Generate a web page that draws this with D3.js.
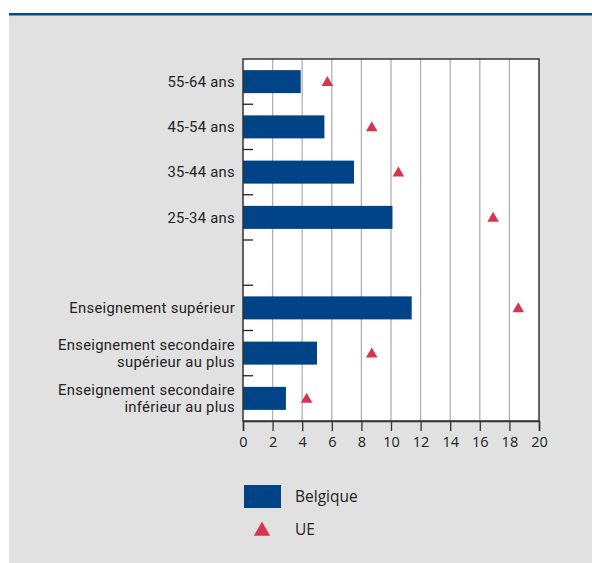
<!DOCTYPE html>
<html><head><meta charset="utf-8">
<script src="https://cdn.jsdelivr.net/npm/d3@7"></script>
<style>body{margin:0;background:#fff}svg{display:block}</style>
</head><body>
<script>
const categories = [
  ["55-64 ans"], ["45-54 ans"], ["35-44 ans"], ["25-34 ans"], [""],
  ["Enseignement supérieur"],
  ["Enseignement secondaire", "supérieur au plus"],
  ["Enseignement secondaire", "inférieur au plus"]
];
const belgique = [3.9, 5.5, 7.5, 10.1, null, 11.4, 5.0, 2.9];
const ue = [5.7, 8.7, 10.5, 16.9, null, 18.6, 8.7, 4.3];
const xTicks = [0, 2, 4, 6, 8, 10, 12, 14, 16, 18, 20];
const legendLabels = ["Belgique", "UE"];

const W = 592, H = 563;
const svg = d3.select("body").append("svg").attr("width", W).attr("height", H);
const font = "'Open Sans', 'Noto Sans', sans-serif";
const labFont = "Roboto, 'Open Sans', sans-serif";

svg.append("rect").attr("x", 9).attr("y", 15).attr("width", W - 9).attr("height", H - 15).attr("fill", "#e1e1e1");
svg.append("rect").attr("x", 9).attr("y", 13).attr("width", W - 9).attr("height", 2.5).attr("fill", "#004a93");

const L = 243, R = 539, T = 59, B = 421;
const x = d3.scaleLinear().domain([0, 20]).range([L, R]);
const y = d3.scaleBand().domain(d3.range(categories.length)).range([T, B]);

svg.append("rect").attr("x", L).attr("y", T).attr("width", R - L).attr("height", B - T).attr("fill", "#fff");

svg.append("g").selectAll("line").data(xTicks.slice(1, -1)).join("line")
  .attr("x1", d => x(d)).attr("x2", d => x(d)).attr("y1", T).attr("y2", B)
  .attr("stroke", "#b0b0b0").attr("stroke-width", 1.3);

// bars
const bh = 23;
svg.append("g").selectAll("rect").data(belgique.map((v, i) => ({v, i})).filter(d => d.v != null)).join("rect")
  .attr("x", x(0)).attr("y", d => y(d.i) + y.bandwidth() / 2 - bh / 2)
  .attr("width", d => x(d.v) - x(0)).attr("height", bh).attr("fill", "#004386");

// triangles
const tri = d3.symbol().type(d3.symbolTriangle).size(58);
svg.append("g").selectAll("path").data(ue.map((v, i) => ({v, i})).filter(d => d.v != null)).join("path")
  .attr("d", tri).attr("transform", d => `translate(${x(d.v)},${y(d.i) + y.bandwidth() / 2 + 1})`)
  .attr("fill", "#d7344f");

// frame
svg.append("rect").attr("x", L).attr("y", T).attr("width", R - L).attr("height", B - T)
  .attr("fill", "none").attr("stroke", "#333").attr("stroke-width", 1.5);

// category ticks (inside, at band boundaries)
svg.append("g").selectAll("line").data(d3.range(1, categories.length)).join("line")
  .attr("x1", L).attr("x2", L + 10).attr("y1", d => y(d)).attr("y2", d => y(d))
  .attr("stroke", "#222").attr("stroke-width", 1.3);

// x axis
const xAxis = d3.axisBottom(x).tickValues(xTicks).tickSize(10).tickPadding(6);
const gx = svg.append("g").attr("transform", `translate(0,${B})`).call(xAxis);
gx.select(".domain").attr("stroke", "#333").attr("stroke-width", 1.5);
gx.selectAll(".tick line").attr("stroke", "#333").attr("stroke-width", 1.3);
gx.selectAll("text").attr("font-family", font).attr("font-size", 14.5).attr("fill", "#222");

// category labels
const lab = svg.append("g").attr("font-family", labFont).attr("font-size", 14.8).attr("letter-spacing", "0.3px").attr("fill", "#222").attr("text-anchor", "end");
categories.forEach((lines, i) => {
  const cy = y(i) + y.bandwidth() / 2;
  const n = lines.length;
  lines.forEach((s, k) => {
    lab.append("text").attr("x", 235).attr("y", cy + (k - (n - 1) / 2) * 17.6).attr("dy", "0.35em").text(s);
  });
});

// legend
svg.append("rect").attr("x", 244).attr("y", 485).attr("width", 37).attr("height", 23).attr("fill", "#004386");
svg.append("path").attr("d", d3.symbol().type(d3.symbolTriangle).size(115)).attr("transform", "translate(262,531)").attr("fill", "#d7344f");
svg.append("text").attr("x", 295).attr("y", 497).attr("dy", "0.35em").attr("font-family", font).attr("font-size", 15.5).attr("fill", "#222").text(legendLabels[0]);
svg.append("text").attr("x", 295).attr("y", 530).attr("dy", "0.35em").attr("font-family", font).attr("font-size", 15.5).attr("fill", "#222").text(legendLabels[1]);
</script>
</body></html>
